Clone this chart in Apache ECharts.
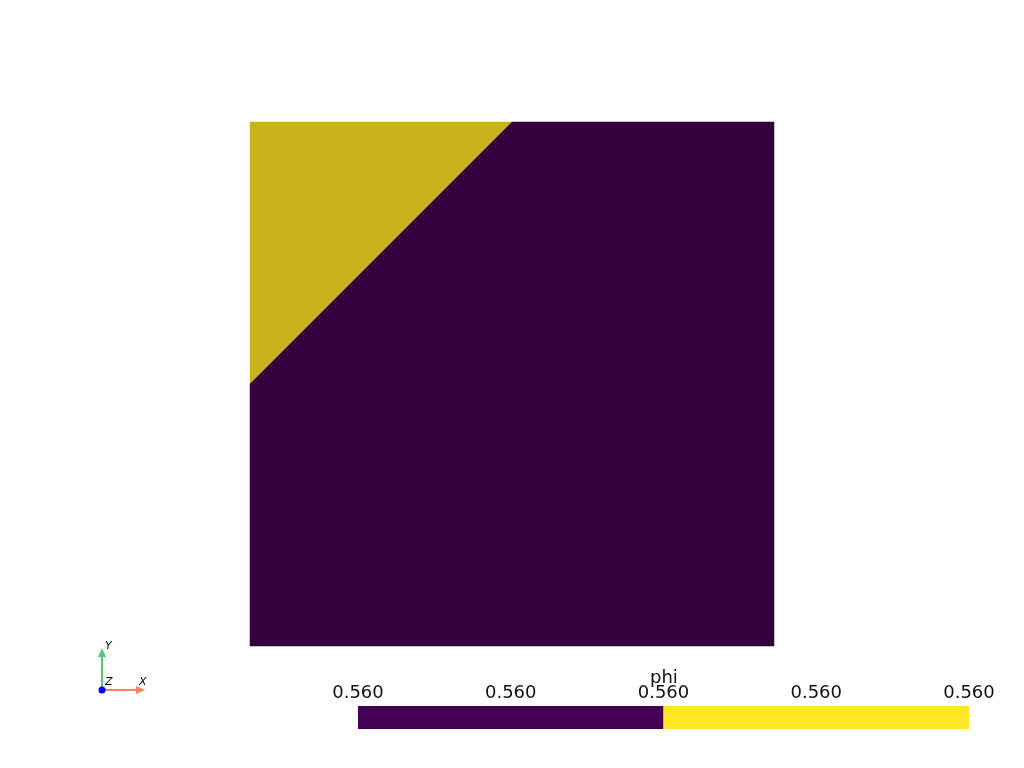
<!DOCTYPE html>
<html>
<head>
<meta charset="utf-8">
<script src="https://cdn.jsdelivr.net/npm/echarts@6/dist/echarts.min.js"></script>
<style>
  html, body { margin: 0; padding: 0; background: #fff; }
  #chart { width: 1024px; height: 768px; }
</style>
</head>
<body>
<div id="chart"></div>
<script>
// domain cells (unit square), phi value per region
const regionNames = ['upper', 'lower'];
const regionPolygons = [
  [[0, 1], [0.5, 1], [0, 0.5]],
  [[0.5, 1], [1, 1], [1, 0], [0, 0], [0, 0.5]]
];
const regionColors = ['#c8b31d', '#36013f'];

// colour bar bins
const barBins = [[0, 0.5], [0.5, 1]];
const barColors = ['#440154', '#fde724'];
const barTicks = [0, 0.25, 0.5, 0.75, 1];
const barTickLabels = ['0.560', '0.560', '0.560', '0.560', '0.560'];
const barTitle = 'phi';

const chart = echarts.init(document.getElementById('chart'));

const polyData = regionPolygons.map((p, i) => ({ name: regionNames[i], value: [i] }));
const binData = barBins.map((b, i) => ({ value: [b[0], b[1], i] }));

const option = {
  animation: false,
  backgroundColor: '#ffffff',
  grid: [
    { left: 250, top: 122, width: 524, height: 524 },
    { left: 358, top: 706, width: 611, height: 23 }
  ],
  xAxis: [
    { gridIndex: 0, type: 'value', min: 0, max: 1, show: false },
    {
      gridIndex: 1, type: 'value', min: 0, max: 1, interval: 0.25, position: 'top',
      axisLine: { show: false }, axisTick: { show: false }, splitLine: { show: false },
      axisLabel: {
        show: true, margin: 4, fontSize: 18, color: '#111',
        fontFamily: 'DejaVu Sans',
        formatter: (v) => {
          const i = barTicks.findIndex(t => Math.abs(t - v) < 1e-9);
          return i >= 0 ? barTickLabels[i] : '';
        }
      }
    }
  ],
  yAxis: [
    { gridIndex: 0, type: 'value', min: 0, max: 1, show: false },
    { gridIndex: 1, type: 'value', min: 0, max: 1, show: false }
  ],
  series: [
    {
      type: 'custom',
      xAxisIndex: 0, yAxisIndex: 0,
      data: polyData,
      renderItem: (params, api) => {
        const i = api.value(0);
        const pts = regionPolygons[i].map(p => api.coord(p));
        return {
          type: 'polygon',
          shape: { points: pts },
          style: { fill: regionColors[i], stroke: regionColors[i], lineWidth: 0.5 }
        };
      }
    },
    {
      type: 'custom',
      xAxisIndex: 1, yAxisIndex: 1,
      data: binData,
      renderItem: (params, api) => {
        const p0 = api.coord([api.value(0), 1]);
        const p1 = api.coord([api.value(1), 0]);
        return {
          type: 'rect',
          shape: { x: p0[0], y: p0[1], width: p1[0] - p0[0], height: p1[1] - p0[1] },
          style: { fill: barColors[api.value(2)] }
        };
      }
    }
  ],
  graphic: [
    {
      type: 'text', left: 665 - 15, top: 669,
      style: { text: barTitle, fontSize: 18, fill: '#111', fontFamily: 'DejaVu Sans' }
    },
    // orientation widget
    { type: 'line', shape: { x1: 102, y1: 690, x2: 102, y2: 656 }, style: { stroke: '#4fc97a', lineWidth: 2 } },
    { type: 'polygon', shape: { points: [[98, 657], [106, 657], [102, 648]] }, style: { fill: '#4fc97a' } },
    { type: 'line', shape: { x1: 102, y1: 690, x2: 137, y2: 690 }, style: { stroke: '#f5845d', lineWidth: 2 } },
    { type: 'polygon', shape: { points: [[136, 686], [136, 694], [145, 690]] }, style: { fill: '#f5845d' } },
    { type: 'circle', shape: { cx: 102, cy: 690, r: 3.5 }, style: { fill: '#0000ff' } },
    { type: 'text', left: 105, top: 641, style: { text: 'Y', fontSize: 11, fontStyle: 'italic', fill: '#000', fontFamily: 'DejaVu Sans' } },
    { type: 'text', left: 105, top: 677, style: { text: 'Z', fontSize: 11, fontStyle: 'italic', fill: '#000', fontFamily: 'DejaVu Sans' } },
    { type: 'text', left: 139, top: 677, style: { text: 'X', fontSize: 11, fontStyle: 'italic', fill: '#000', fontFamily: 'DejaVu Sans' } }
  ]
};

chart.setOption(option);
</script>
</body>
</html>
